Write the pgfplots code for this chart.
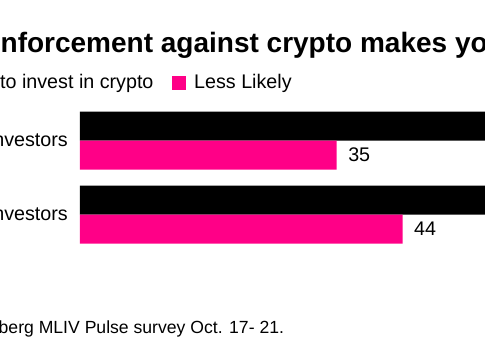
\documentclass[border=0pt]{standalone}
\usepackage{pgfplots}
\pgfplotsset{compat=1.18}
\usepackage{fontspec}
\setmainfont{Liberation Sans}
\definecolor{bpink}{RGB}{255,0,135}
\begin{document}
\begin{tikzpicture}[x=1pt,y=1pt]
\path[use as bounding box] (0,0) rectangle (485,360);
\clip (0,0) rectangle (485,360);
% title
\node[anchor=base west, inner sep=0pt, font=\fontsize{28}{30}\selectfont\bfseries] at (0.5,308)
  {\llap{Does e}nforcement against crypto makes you more or less likely to invest?};
% legend
\fill[black] (-30,270) rectangle (-16,284);
\node[anchor=base west, inner sep=0pt, font=\fontsize{19.7}{22}\selectfont] at (0,272)
  {\llap{More likely }to invest in crypto};
\fill[bpink] (172,270) rectangle (186,284);
\node[anchor=base west, inner sep=0pt, font=\fontsize{19.7}{22}\selectfont] at (194,272) {Less Likely};
% footer
\node[anchor=base west, inner sep=0pt, font=\fontsize{17.6}{20}\selectfont] at (-1.5,26.7)
  {\llap{Source: Bloom}berg MLIV Pulse survey Oct. 17- 21.};
\begin{axis}[
  at={(80pt,108.5pt)}, anchor=south west,
  scale only axis, width=405pt, height=148pt,
  xbar, bar width=29pt,
  xmin=0, xmax=55.25, ymin=-0.5, ymax=1.5,
  axis line style={draw=none},
  xtick=\empty,
  ytick={0,1}, yticklabels={Retail investors,Professional investors},
  major tick length=0pt,
  tick style={draw=none},
  yticklabel style={anchor=base east, inner sep=0pt, xshift=-12pt, yshift=-6.2pt,
    font=\fontsize{19.7}{22}\selectfont},
  /pgf/number format/assume math mode=true,
  clip=true,
]
\addplot[fill=black, draw=none, bar shift=14.5pt] coordinates {(62,0) (60,1)};
\addplot[fill=bpink, draw=none, bar shift=-14.5pt,
  nodes near coords, nodes near coords style={anchor=west, inner sep=0pt, xshift=11.5pt,
    font=\fontsize{19.7}{22}\selectfont, text=black}] coordinates {(44,0) (35,1)};
\end{axis}
\end{tikzpicture}
\end{document}
